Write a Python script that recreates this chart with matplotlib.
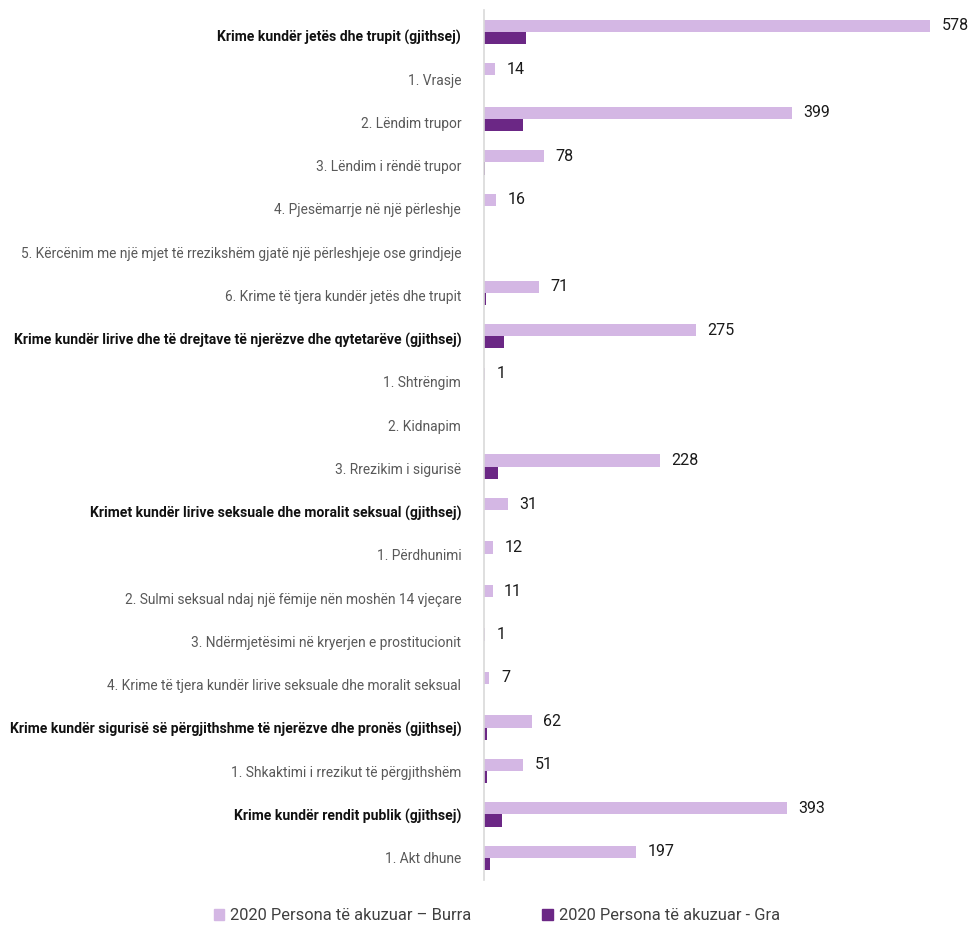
import numpy as np
import matplotlib.pyplot as plt
from matplotlib.patches import Patch

plt.rcParams['font.family'] = ['Roboto', 'DejaVu Sans']

C_MEN = "#d4b7e4"
C_WOMEN = "#6b2785"

categories = [
    "Krime kundër jetës dhe trupit (gjithsej)",
    "1. Vrasje",
    "2. Lëndim trupor",
    "3. Lëndim i rëndë trupor",
    "4. Pjesëmarrje në një përleshje",
    "5. Kërcënim me një mjet të rrezikshëm gjatë një përleshjeje ose grindjeje",
    "6. Krime të tjera kundër jetës dhe trupit",
    "Krime kundër lirive dhe të drejtave të njerëzve dhe qytetarëve (gjithsej)",
    "1. Shtrëngim",
    "2. Kidnapim",
    "3. Rrezikim i sigurisë",
    "Krimet kundër lirive seksuale dhe moralit seksual (gjithsej)",
    "1. Përdhunimi",
    "2. Sulmi seksual ndaj një fëmije nën moshën 14 vjeçare",
    "3. Ndërmjetësimi në kryerjen e prostitucionit",
    "4. Krime të tjera kundër lirive seksuale dhe moralit seksual",
    "Krime kundër sigurisë së përgjithshme të njerëzve dhe pronës (gjithsej)",
    "1. Shkaktimi i rrezikut të përgjithshëm",
    "Krime kundër rendit publik (gjithsej)",
    "1. Akt dhune",
]
is_total = [c.endswith("(gjithsej)") for c in categories]

men = [578, 14, 399, 78, 16, 0, 71, 275, 1, 0, 228, 31, 12, 11, 1, 7, 62, 51, 393, 197]
women = [55, 0, 50, 1, 0, 0, 2, 26, 0, 0, 18, 0, 0, 0, 0, 0, 4, 4, 23, 8]

series_names = ["2020 Persona të akuzuar – Burra", "2020 Persona të akuzuar - Gra"]

fig = plt.figure(figsize=(9.72, 9.25), dpi=100)
ax = fig.add_axes([0.498, 0.049, 0.476, 0.94])

y = np.arange(len(categories))
h = 0.28
ax.barh(y - h / 2, men, height=h, color=C_MEN)
ax.barh(y + h / 2, women, height=h, color=C_WOMEN)

for yi, v in zip(y, men):
    if v > 0:
        ax.text(v + 15, yi - h / 2, str(v), va="center", ha="left",
                fontsize=11.5, color="#1a1a1a")

ax.set_xlim(0, 600)
ax.set_ylim(len(categories) - 0.5, -0.5)
# category labels sit a touch below the bar pairs near the top
ax.set_yticks(y * 0.995 + 0.09)
ax.set_yticklabels(categories)
for lbl, tot in zip(ax.get_yticklabels(), is_total):
    if tot:
        lbl.set_fontsize(10.1)
        lbl.set_fontweight("bold")
        lbl.set_color("#111111")
    else:
        lbl.set_fontsize(9.95)
        lbl.set_color("#595959")

ax.tick_params(axis="y", length=0, pad=16.5)
ax.set_xticks([])
for s in ("top", "right", "bottom"):
    ax.spines[s].set_visible(False)
ax.spines["left"].set_color("#d9d9d9")
ax.spines["left"].set_linewidth(1.2)

handles = [Patch(color=C_MEN), Patch(color=C_WOMEN)]
fig.legend(handles, series_names, loc="center", bbox_to_anchor=(0.511, 0.010),
           ncol=2, frameon=False, handlelength=0.65, handleheight=0.65,
           handletextpad=0.35, columnspacing=4.3,
           prop={"size": 11.85}, labelcolor="#404040")

fig.savefig("out.png", dpi=100)
